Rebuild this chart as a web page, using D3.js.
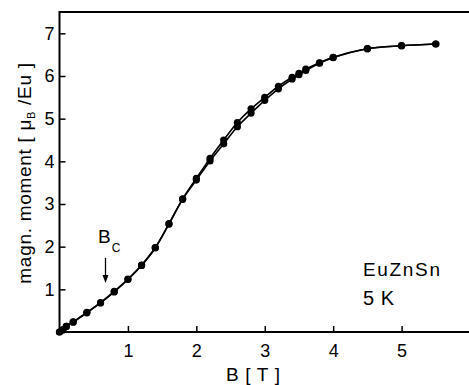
<!DOCTYPE html>
<html>
<head>
<meta charset="utf-8">
<script src="https://cdn.jsdelivr.net/npm/d3@7"></script>
<style>
  html, body { margin: 0; padding: 0; background: #fff; }
  svg { display: block; }
  text { font-family: "Liberation Sans", Arial, Helvetica, sans-serif; fill: #000; }
</style>
</head>
<body>
<svg id="chart" width="469" height="385"></svg>
<script>
// Magnetisation of EuZnSn at 5 K: field sweep up and down
const fieldUp = [0, 0.05, 0.1, 0.2, 0.4, 0.6, 0.8, 1.0, 1.2, 1.4, 1.6, 1.8, 2.0, 2.2, 2.4, 2.6, 2.8, 3.0, 3.2, 3.4, 3.5, 3.6, 3.8, 4.0, 4.5, 5.0, 5.5];
const momentUp = [0, 0.05, 0.13, 0.23, 0.45, 0.68, 0.94, 1.23, 1.56, 1.97, 2.53, 3.11, 3.56, 4.01, 4.41, 4.81, 5.13, 5.43, 5.70, 5.93, 6.03, 6.13, 6.30, 6.43, 6.64, 6.71, 6.75];
const fieldDown = [5.5, 5.0, 4.5, 4.0, 3.8, 3.6, 3.5, 3.4, 3.2, 3.0, 2.8, 2.6, 2.4, 2.2, 2.0, 1.8, 1.6, 1.4, 1.2, 1.0, 0.8, 0.6, 0.4, 0.2, 0.1, 0.05, 0];
const momentDown = [6.75, 6.71, 6.64, 6.44, 6.31, 6.16, 6.06, 5.97, 5.76, 5.50, 5.23, 4.91, 4.50, 4.07, 3.60, 3.12, 2.54, 1.98, 1.57, 1.24, 0.95, 0.69, 0.46, 0.24, 0.13, 0.05, 0];
const xTicks = [1, 2, 3, 4, 5];
const yTicks = [1, 2, 3, 4, 5, 6, 7];

const svg = d3.select("#chart");
const x = d3.scaleLinear().domain([0, 6]).range([59.5, 470]);
const y = d3.scaleLinear().domain([0, 7.5]).range([332, 12]);

// frame: left, top and bottom edges (right side runs off the page)
const frame = svg.append("g").attr("stroke", "#000").attr("stroke-width", 2).attr("fill", "none");
frame.append("path").attr("d", `M${x(6)},${y(7.5)}H${x(0)}V${y(0)}H${x(6)}`);

// axes with inward ticks
const xAxis = d3.axisBottom(x).tickValues(xTicks).tickSize(-6).tickPadding(12).tickFormat(d3.format("d"));
const gx = svg.append("g").attr("transform", `translate(0,${y(0)})`).call(xAxis);
gx.select(".domain").remove();
gx.selectAll(".tick line").attr("stroke", "#000").attr("stroke-width", 1.5);
gx.selectAll(".tick text").attr("font-size", 18).attr("font-family", "Liberation Sans, Arial, sans-serif").attr("fill", "#000");

const yAxis = d3.axisLeft(y).tickValues(yTicks).tickSize(-6).tickPadding(5).tickFormat(d3.format("d"));
const gy = svg.append("g").attr("transform", `translate(${x(0)},0)`).call(yAxis);
gy.select(".domain").remove();
gy.selectAll(".tick line").attr("stroke", "#000").attr("stroke-width", 1.5);
gy.selectAll(".tick text").attr("font-size", 18).attr("font-family", "Liberation Sans, Arial, sans-serif").attr("fill", "#000");

// sweep curves
const line = d3.line().x(d => x(d[0])).y(d => y(d[1])).curve(d3.curveCatmullRom.alpha(0.5));
const upPts = fieldUp.map((b, i) => [b, momentUp[i]]);
const downPts = fieldDown.map((b, i) => [b, momentDown[i]]);

[upPts, downPts].forEach(pts => {
  svg.append("path").datum(pts).attr("d", line)
    .attr("fill", "none").attr("stroke", "#000").attr("stroke-width", 1.6);
});
[upPts, downPts].forEach(pts => {
  svg.append("g").selectAll("circle").data(pts).join("circle")
    .attr("cx", d => x(d[0])).attr("cy", d => y(d[1])).attr("r", 3.6).attr("fill", "#000");
});

// axis titles
svg.append("text").attr("x", 253).attr("y", 381).attr("text-anchor", "middle")
  .attr("font-size", 19).attr("textLength", 54).attr("lengthAdjust", "spacing")
  .text("B [ T ]");

const yl = svg.append("text").attr("transform", "translate(31,173) rotate(-90)")
  .attr("text-anchor", "middle").attr("font-size", 19).attr("letter-spacing", 0.7);
yl.append("tspan").text("magn. moment [ μ");
yl.append("tspan").attr("font-size", 11).attr("dy", 4).text("B");
yl.append("tspan").attr("dy", -4).text(" /Eu ]");

// critical field marker
const bc = svg.append("text").attr("x", 98).attr("y", 243).attr("font-size", 19);
bc.append("tspan").text("B");
bc.append("tspan").attr("font-size", 12).attr("dy", 9).attr("dx", 1).text("C");
svg.append("line").attr("x1", 105.5).attr("x2", 105.5).attr("y1", 258).attr("y2", 278)
  .attr("stroke", "#000").attr("stroke-width", 1.3);
svg.append("path").attr("d", "M102.5,275 L105.5,283 L108.5,275 Z").attr("fill", "#000");

// sample annotation
svg.append("text").attr("x", 363).attr("y", 276).attr("font-size", 19)
  .attr("textLength", 77).attr("lengthAdjust", "spacing").text("EuZnSn");
svg.append("text").attr("x", 363).attr("y", 305).attr("font-size", 20)
  .attr("letter-spacing", 0.5).text("5 K");
</script>
</body>
</html>
